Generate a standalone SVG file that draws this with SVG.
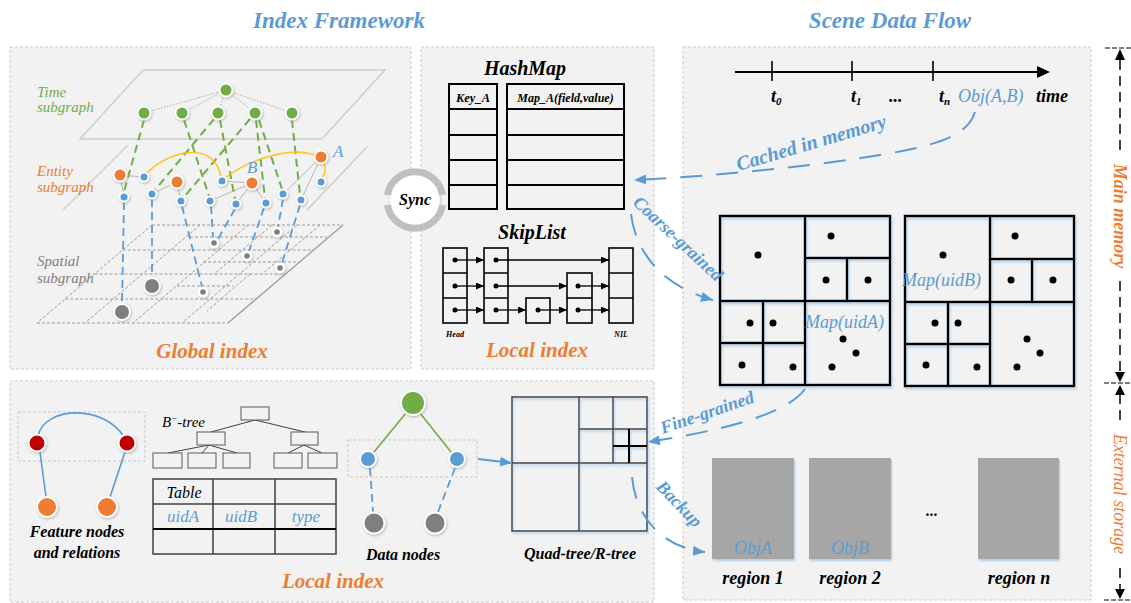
<svg xmlns="http://www.w3.org/2000/svg" width="1131" height="603" viewBox="0 0 1131 603" font-family="'Liberation Serif', 'DejaVu Serif', 'Times New Roman', serif">
<defs>
<style>
.panel{fill:#f2f2f2;stroke:#cccccc;stroke-width:1;stroke-dasharray:3 2}
.t{font-family:'Liberation Serif','DejaVu Serif','Times New Roman',serif;font-style:italic}
.b{font-weight:bold}
.h1{font-size:23px;font-weight:bold;fill:#5b9bd5}
.h2{font-size:21px;font-weight:bold;fill:#ed7d31}
.lbl{font-size:16px;font-weight:bold;fill:#000}
.plane{stroke:#cdcdcd;stroke-width:1.5;fill:none}
.grid{stroke:#9a9a9a;stroke-width:1;stroke-dasharray:3 2;fill:none}
.gdash{stroke:#70ad47;stroke-width:2;stroke-dasharray:8 5;fill:none}
.bdash{stroke:#5b9bd5;stroke-width:1.8;stroke-dasharray:8 5;fill:none}
.thin{stroke:#a6a6a6;stroke-width:0.8;fill:none}
.dotl{stroke:#9a9a9a;stroke-width:0.8;stroke-dasharray:1.5 1.5;fill:none}
.yl{stroke:#ffc000;stroke-width:1.6;fill:none;opacity:0.85}
.nd{stroke:#fff;stroke-width:2;filter:url(#nsh)}
.g{fill:#70ad47}.o{fill:#ed7d31}.bl{fill:#5b9bd5}.gr{fill:#7f7f7f}.r{fill:#c00000}
.box{fill:none;stroke:#000;stroke-width:2.5}
.dt{fill:#000}
.flow{stroke:#5b9bd5;stroke-width:2;stroke-dasharray:22 14;fill:none;marker-end:url(#ab)}
.sk{stroke:#000;stroke-width:1.6;fill:none}
.ska{stroke:#000;stroke-width:1.3;fill:none;marker-end:url(#ak)}
.bt{fill:#f2f2f2;stroke:#595959;stroke-width:1}
.btl{stroke:#404040;stroke-width:1;fill:none}
.qt{stroke:#404040;stroke-width:1.5;fill:none}
.vd{stroke:#000;stroke-width:1.5;stroke-dasharray:10 6;fill:none}
.hb{fill:none;stroke:#000;stroke-width:2}
</style>
<filter id="nsh" x="-50%" y="-50%" width="200%" height="200%">
<feDropShadow dx="0.8" dy="1.2" stdDeviation="1" flood-color="#808080" flood-opacity="0.5"/>
</filter>
<filter id="glow" x="-10%" y="-10%" width="120%" height="120%">
<feDropShadow dx="1" dy="2" stdDeviation="1.3" flood-color="#9dc3e6" flood-opacity="0.8"/>
</filter>
<marker id="ab" viewBox="0 0 12 10" refX="12" refY="5" markerWidth="12" markerHeight="10" markerUnits="userSpaceOnUse" orient="auto">
<path d="M0,0 L12,5 L0,10 Z" fill="#5b9bd5"/>
</marker>
<marker id="ak" viewBox="0 0 8 7" refX="8" refY="3.5" markerWidth="8" markerHeight="7" markerUnits="userSpaceOnUse" orient="auto">
<path d="M0,0 L8,3.5 L0,7 Z" fill="#000"/>
</marker>
</defs>

<rect width="1131" height="603" fill="#fff"/>

<!-- section titles -->
<text class="t h1" x="339" y="28" text-anchor="middle">Index Framework</text>
<text class="t h1" x="890" y="28" text-anchor="middle">Scene Data Flow</text>

<!-- panels -->
<rect class="panel" x="10" y="47" width="401" height="322"/>
<rect class="panel" x="421" y="47" width="233" height="322"/>
<rect class="panel" x="10" y="381" width="644" height="221"/>
<rect class="panel" x="683" y="47" width="408" height="553"/>

<!-- ===== Global index ===== -->
<g id="global-index">
  <!-- layer planes -->
  <polygon class="plane" points="143,70 385,70 322,139 80,139"/>
  <line class="plane" x1="128" y1="145" x2="63" y2="210"/>
  <line class="plane" x1="367" y1="147" x2="307" y2="210"/>
  <!-- spatial grid -->
  <g id="spatial-grid">
    <line class="grid" x1="152" y1="225" x2="343" y2="225"/>
    <line class="grid" x1="122.7" y1="250" x2="313.7" y2="250"/>
    <line class="grid" x1="94.5" y1="274" x2="285.5" y2="274"/>
    <line class="grid" x1="65.2" y1="299" x2="256.2" y2="299"/>
    <line class="grid" x1="37" y1="323" x2="228" y2="323"/>
    <line class="grid" x1="190" y1="237" x2="327" y2="237"/>
    <line class="grid" x1="203" y1="262" x2="300" y2="262"/>
    <line class="grid" x1="177" y1="286" x2="233" y2="286"/>
    <line class="grid" x1="152" y1="225" x2="37" y2="323"/>
    <line class="grid" x1="200" y1="225" x2="85" y2="323"/>
    <line class="grid" x1="248" y1="225" x2="133" y2="323"/>
    <line class="grid" x1="297" y1="225" x2="182" y2="323"/>
    <line class="grid" x1="272" y1="225" x2="214" y2="274"/>
    <line class="grid" x1="320" y1="225" x2="262" y2="274"/>
    <line class="grid" x1="250" y1="274" x2="207" y2="311"/>
    <line x1="343" y1="225" x2="228" y2="323" stroke="#9a9a9a" stroke-width="1.2"/>
  </g>
  <!-- layer labels -->
  <text class="t" x="37" y="97" font-size="15" fill="#70ad47">Time</text>
  <text class="t" x="37" y="112" font-size="15" fill="#70ad47">subgraph</text>
  <text class="t" x="37" y="176" font-size="15" fill="#ed7d31">Entity</text>
  <text class="t" x="37" y="192" font-size="15" fill="#ed7d31">subgraph</text>
  <text class="t" x="37" y="266" font-size="15" fill="#7f7f7f">Spatial</text>
  <text class="t" x="37" y="283" font-size="15" fill="#7f7f7f">subgraph</text>

  <!-- time to entity links -->
  <g id="time-entity-links">
    <line class="gdash" x1="144" y1="120" x2="124" y2="192"/>
    <line class="gdash" x1="184" y1="120" x2="209" y2="196"/>
    <line class="gdash" x1="214" y1="119" x2="155" y2="190"/>
    <line class="gdash" x1="220" y1="120" x2="235" y2="199"/>
    <line class="gdash" x1="250" y1="119" x2="184" y2="197"/>
    <line class="gdash" x1="256" y1="120" x2="265" y2="198"/>
    <line class="gdash" x1="259" y1="120" x2="282" y2="189"/>
    <line class="gdash" x1="292" y1="120" x2="300" y2="195"/>
  </g>
  <!-- entity to spatial links -->
  <g id="entity-spatial-links">
    <line class="bdash" x1="124" y1="202" x2="122" y2="304"/>
    <line class="bdash" x1="152" y1="199" x2="152" y2="278"/>
    <line class="bdash" x1="182" y1="206" x2="202" y2="287"/>
    <line class="bdash" x1="211" y1="206" x2="213" y2="238"/>
    <line class="bdash" x1="235" y1="209" x2="218" y2="239"/>
    <line class="bdash" x1="264" y1="208" x2="249" y2="251"/>
    <line class="bdash" x1="283" y1="199" x2="278" y2="227"/>
    <line class="bdash" x1="300" y1="205" x2="282" y2="263"/>
  </g>
  <!-- time subgraph edges -->
  <g id="time-edges">
    <line class="dotl" x1="226" y1="90" x2="144" y2="113"/>
    <line class="dotl" x1="226" y1="90" x2="182" y2="113"/>
    <line class="dotl" x1="226" y1="90" x2="218" y2="113"/>
    <line class="dotl" x1="226" y1="90" x2="255" y2="113"/>
    <line class="dotl" x1="226" y1="90" x2="292" y2="113"/>
  </g>
  <!-- entity subgraph edges -->
  <g id="entity-edges">
    <line class="thin" x1="120" y1="175" x2="144" y2="177"/>
    <line class="thin" x1="120" y1="175" x2="124" y2="197"/>
    <line class="thin" x1="152" y1="194" x2="177" y2="182"/>
    <line class="thin" x1="177" y1="182" x2="181" y2="201"/>
    <line class="thin" x1="222" y1="181" x2="252" y2="183"/>
    <line class="thin" x1="210" y1="201" x2="252" y2="183"/>
    <line class="thin" x1="252" y1="183" x2="236" y2="204"/>
    <line class="thin" x1="252" y1="183" x2="266" y2="203"/>
    <line class="thin" x1="321" y1="157" x2="283" y2="194"/>
    <line class="thin" x1="321" y1="157" x2="301" y2="200"/>
    <path class="yl" d="M146,174 C166,152 214,138 221,177"/>
    <path class="yl" d="M225,178 C248,160 290,146 315,155"/>
    <path class="yl" d="M324,163 Q327,172 322,178"/>
  </g>
  <!-- time nodes -->
  <g id="time-nodes">
    <circle class="nd g" cx="226" cy="90" r="6.5"/>
    <circle class="nd g" cx="144" cy="113" r="6.5"/>
    <circle class="nd g" cx="182" cy="113" r="6.5"/>
    <circle class="nd g" cx="218" cy="113" r="6.5"/>
    <circle class="nd g" cx="255" cy="113" r="6.5"/>
    <circle class="nd g" cx="292" cy="113" r="6.5"/>
  </g>
  <!-- entity nodes -->
  <g id="entity-nodes">
    <circle class="nd o" cx="120" cy="175" r="6.5"/>
    <circle class="nd o" cx="177" cy="182" r="6.5"/>
    <circle class="nd o" cx="252" cy="183" r="6.5"/>
    <circle class="nd o" cx="321" cy="157" r="6.5"/>
    <circle class="nd bl" cx="144" cy="177" r="4.5" stroke-width="1.5"/>
    <circle class="nd bl" cx="124" cy="197" r="4.5" stroke-width="1.5"/>
    <circle class="nd bl" cx="152" cy="194" r="4.5" stroke-width="1.5"/>
    <circle class="nd bl" cx="181" cy="201" r="4.5" stroke-width="1.5"/>
    <circle class="nd bl" cx="222" cy="181" r="4.5" stroke-width="1.5"/>
    <circle class="nd bl" cx="210" cy="201" r="4.5" stroke-width="1.5"/>
    <circle class="nd bl" cx="236" cy="204" r="4.5" stroke-width="1.5"/>
    <circle class="nd bl" cx="266" cy="203" r="4.5" stroke-width="1.5"/>
    <circle class="nd bl" cx="283" cy="194" r="4.5" stroke-width="1.5"/>
    <circle class="nd bl" cx="301" cy="200" r="4.5" stroke-width="1.5"/>
    <circle class="nd bl" cx="321" cy="182" r="4.5" stroke-width="1.5"/>
    <text class="t" x="333" y="157" font-size="17" fill="#5b9bd5">A</text>
    <text class="t" x="247" y="173" font-size="17" fill="#5b9bd5">B</text>
  </g>
  <!-- spatial nodes -->
  <g id="spatial-nodes">
    <circle class="nd gr" cx="122" cy="312" r="8"/>
    <circle class="nd gr" cx="152" cy="286" r="8"/>
    <circle cx="203" cy="292" r="5.5" fill="#fff" filter="url(#nsh)"/><circle cx="203" cy="292" r="2.8" class="gr"/>
    <circle cx="214" cy="243" r="5.5" fill="#fff" filter="url(#nsh)"/><circle cx="214" cy="243" r="2.8" class="gr"/>
    <circle cx="247" cy="256" r="5.5" fill="#fff" filter="url(#nsh)"/><circle cx="247" cy="256" r="2.8" class="gr"/>
    <circle cx="277" cy="232" r="5.5" fill="#fff" filter="url(#nsh)"/><circle cx="277" cy="232" r="2.8" class="gr"/>
    <circle cx="280" cy="268" r="5.5" fill="#fff" filter="url(#nsh)"/><circle cx="280" cy="268" r="2.8" class="gr"/>
  </g>
  <text class="t h2" x="212" y="358" text-anchor="middle">Global index</text>
</g>

<!-- ===== Sync ring ===== -->
<g id="sync">
  <circle cx="415" cy="200" r="25" fill="#fff" filter="url(#nsh)"/>
  <path d="M387.4,195 A28,28 0 0 1 442.6,195" fill="none" stroke="#bfbfbf" stroke-width="7"/>
  <path d="M442.6,205 A28,28 0 0 1 387.4,205" fill="none" stroke="#bfbfbf" stroke-width="7"/>
  <text class="t b" x="415" y="205" font-size="16" text-anchor="middle">Sync</text>
</g>

<!-- ===== HashMap / SkipList local index ===== -->
<g id="hashmap">
  <text class="t b" x="525" y="75" font-size="20" text-anchor="middle">HashMap</text>
  <rect class="hb" x="449" y="84" width="48" height="125"/>
  <rect class="hb" x="507" y="84" width="117" height="125"/>
  <path class="hb" d="M449,109 H497 M449,135 H497 M449,160 H497 M449,185 H497 M507,109 H624 M507,135 H624 M507,160 H624 M507,185 H624"/>
  <text class="t b" x="473" y="102" font-size="12.5" text-anchor="middle">Key_A</text>
  <text class="t b" x="565.5" y="102" font-size="12" text-anchor="middle">Map_A(field,value)</text>
</g>
<g id="skiplist">
  <text class="t b" x="532" y="239" font-size="20" text-anchor="middle">SkipList</text>
  <rect class="sk" x="443" y="248" width="24" height="75"/>
  <path class="sk" d="M443,273 H467 M443,298 H467"/>
  <rect class="sk" x="484" y="248" width="24" height="75"/>
  <path class="sk" d="M484,273 H508 M484,298 H508"/>
  <rect class="sk" x="526" y="298" width="24" height="25"/>
  <rect class="sk" x="567" y="273" width="25" height="50"/>
  <path class="sk" d="M567,298 H592"/>
  <rect class="sk" x="609" y="248" width="24" height="75"/>
  <path class="sk" d="M609,273 H633 M609,298 H633"/>
  <g class="dt">
    <circle cx="455" cy="260" r="2.5"/><circle cx="455" cy="286" r="2.5"/><circle cx="455" cy="310" r="2.5"/>
    <circle cx="496" cy="260" r="2.5"/><circle cx="496" cy="286" r="2.5"/><circle cx="496" cy="310" r="2.5"/>
    <circle cx="538" cy="310" r="2.5"/>
    <circle cx="578" cy="286" r="2.5"/><circle cx="578" cy="310" r="2.5"/>
  </g>
  <line class="ska" x1="455" y1="260" x2="484" y2="260"/>
  <line class="ska" x1="496" y1="260" x2="609" y2="260"/>
  <line class="ska" x1="455" y1="286" x2="484" y2="286"/>
  <line class="ska" x1="496" y1="286" x2="567" y2="286"/>
  <line class="ska" x1="578" y1="286" x2="609" y2="286"/>
  <line class="ska" x1="455" y1="310" x2="484" y2="310"/>
  <line class="ska" x1="496" y1="310" x2="526" y2="310"/>
  <line class="ska" x1="538" y1="310" x2="567" y2="310"/>
  <line class="ska" x1="578" y1="310" x2="609" y2="310"/>
  <text class="t b" x="455" y="337" font-size="8" text-anchor="middle">Head</text>
  <text class="t b" x="621" y="337" font-size="8" text-anchor="middle">NIL</text>
  <text class="t h2" x="537" y="357" text-anchor="middle">Local index</text>
</g>

<!-- ===== Bottom local index ===== -->
<g id="feature-nodes">
  <rect x="18" y="412" width="127" height="49" fill="none" stroke="#c8c8c8" stroke-width="1" stroke-dasharray="3 2"/>
  <path d="M38,436 C45,405 105,405 124,437" fill="none" stroke="#5b9bd5" stroke-width="1.6"/>
  <line x1="40" y1="452" x2="46" y2="497" stroke="#5b9bd5" stroke-width="1.6"/>
  <line x1="125" y1="452" x2="110" y2="497" stroke="#5b9bd5" stroke-width="1.6"/>
  <circle class="nd r" cx="37" cy="443" r="8.5"/>
  <circle class="nd r" cx="127" cy="443" r="8.5"/>
  <circle class="nd o" cx="47" cy="507" r="10"/>
  <circle class="nd o" cx="107" cy="507" r="10"/>
  <text class="t lbl" x="77" y="537" text-anchor="middle">Feature nodes</text>
  <text class="t lbl" x="77" y="558" text-anchor="middle">and relations</text>
</g>
<g id="bplus-tree">
  <text class="t" x="162" y="427" font-size="15">B<tspan font-size="9" dy="-6">−</tspan><tspan dy="6">-tree</tspan></text>
  <path class="btl" d="M255,420 L211,432 M255,420 L305,432 M209,445 L168,453 M209,445 L202,453 M209,445 L237,453 M304,445 L288,453 M304,445 L322,453"/>
  <rect class="bt" x="241" y="407" width="28" height="13"/>
  <rect class="bt" x="197" y="432" width="28" height="13"/>
  <rect class="bt" x="291" y="432" width="27" height="13"/>
  <rect class="bt" x="153" y="453" width="29" height="15"/>
  <rect class="bt" x="188" y="453" width="28" height="15"/>
  <rect class="bt" x="223" y="453" width="27" height="15"/>
  <rect class="bt" x="274" y="453" width="28" height="15"/>
  <rect class="bt" x="308" y="453" width="29" height="15"/>
</g>
<g id="table">
  <rect x="153" y="479" width="183" height="75" fill="none" stroke="#404040" stroke-width="1.5"/>
  <path d="M213,479 V554 M275,479 V554 M153,504 H336" stroke="#404040" stroke-width="1.5" fill="none"/>
  <path d="M153,529 H336" stroke="#000" stroke-width="2.2"/>
  <text class="t" x="184" y="498" font-size="16" text-anchor="middle">Table</text>
  <text class="t" x="183" y="522" font-size="17" fill="#5b9bd5" text-anchor="middle">uidA</text>
  <text class="t" x="241" y="522" font-size="17" fill="#5b9bd5" text-anchor="middle">uidB</text>
  <text class="t" x="306" y="522" font-size="17" fill="#5b9bd5" text-anchor="middle">type</text>
</g>
<g id="data-nodes">
  <rect x="348" y="440" width="129" height="37" fill="none" stroke="#c8c8c8" stroke-width="1" stroke-dasharray="3 2"/>
  <line x1="406" y1="413" x2="374" y2="452" stroke="#70ad47" stroke-width="1.6"/>
  <line x1="420" y1="413" x2="451" y2="452" stroke="#70ad47" stroke-width="1.6"/>
  <line class="bdash" x1="370" y1="468" x2="373" y2="512"/>
  <line class="bdash" x1="455" y1="468" x2="438" y2="512"/>
  <circle class="nd g" cx="413" cy="403" r="12"/>
  <circle class="nd bl" cx="368" cy="459" r="8"/>
  <circle class="nd bl" cx="457" cy="459" r="8"/>
  <circle class="nd gr" cx="374" cy="523" r="10.5"/>
  <circle class="nd gr" cx="435" cy="523" r="10.5"/>
  <text class="t lbl" x="403" y="560" text-anchor="middle">Data nodes</text>
</g>
<g id="quad-tree">
  <g filter="url(#glow)">
    <rect class="qt" x="512" y="397" width="135" height="134"/>
    <path class="qt" d="M579,397 V531 M512,463 H647 M613,397 V463 M579,429 H647"/>
    <path d="M629,429 V463 M613,446 H647" stroke="#000" stroke-width="2" fill="none"/>
  </g>
  <text class="t lbl" x="580" y="559" text-anchor="middle">Quad-tree/R-tree</text>
</g>
<text class="t h2" x="333" y="588" text-anchor="middle">Local index</text>

<!-- ===== Scene data flow ===== -->
<g id="timeline">
  <line x1="735" y1="72" x2="1040" y2="72" stroke="#000" stroke-width="2"/>
  <polygon points="1037,66 1050,72 1037,78" fill="#000"/>
  <path d="M772,61 V81 M852,61 V81 M933,61 V81" stroke="#000" stroke-width="1.6"/>
  <text class="t b" x="771" y="102" font-size="18">t<tspan font-size="11" dy="3">0</tspan></text>
  <text class="t b" x="851" y="102" font-size="18">t<tspan font-size="11" dy="3">1</tspan></text>
  <text class="t b" x="889" y="102" font-size="18">...</text>
  <text class="t b" x="939" y="102" font-size="18">t<tspan font-size="11" dy="3">n</tspan></text>
  <text class="t" x="958" y="102" font-size="18" fill="#5b9bd5">Obj(A,B)</text>
  <text class="t b" x="1036" y="102" font-size="18">time</text>
</g>

<g id="map-uidA" filter="url(#glow)">
  <rect class="box" x="720" y="216" width="170" height="169"/>
  <path class="box" d="M805,216 V385 M720,301 H890 M805,258 H890 M847,258 V301 M763,301 V385 M720,343 H805"/>
</g>
<g id="map-uidA-points" class="dt">
  <circle cx="758" cy="255" r="3.5"/><circle cx="831" cy="236" r="3.5"/>
  <circle cx="826" cy="280" r="3.5"/><circle cx="868" cy="280" r="3.5"/>
  <circle cx="750" cy="323" r="3.5"/><circle cx="773" cy="323" r="3.5"/>
  <circle cx="742" cy="365" r="3.5"/><circle cx="793" cy="367" r="3.5"/>
  <circle cx="843" cy="339" r="3.5"/><circle cx="856" cy="353" r="3.5"/><circle cx="832" cy="367" r="3.5"/>
</g>
<g id="map-uidB" filter="url(#glow)">
  <rect class="box" x="905" y="216" width="169" height="170"/>
  <path class="box" d="M990,216 V386 M905,302 H1074 M990,259 H1074 M1032,259 V302 M948,302 V386 M905,344 H990"/>
</g>
<g id="map-uidB-points" class="dt">
  <circle cx="943" cy="255" r="3.5"/><circle cx="1015" cy="236" r="3.5"/>
  <circle cx="1011" cy="280" r="3.5"/><circle cx="1053" cy="280" r="3.5"/>
  <circle cx="935" cy="323" r="3.5"/><circle cx="958" cy="323" r="3.5"/>
  <circle cx="926" cy="365" r="3.5"/><circle cx="977" cy="367" r="3.5"/>
  <circle cx="1027" cy="339" r="3.5"/><circle cx="1040" cy="353" r="3.5"/><circle cx="1017" cy="367" r="3.5"/>
</g>
<text class="t" x="805" y="328" font-size="18" fill="#5b9bd5">Map(uidA)</text>
<text class="t" x="902" y="286" font-size="18" fill="#5b9bd5">Map(uidB)</text>

<g id="regions">
  <g filter="url(#glow)">
    <rect x="712" y="458" width="82" height="101" fill="#a6a6a6"/>
    <rect x="809" y="458" width="82" height="101" fill="#a6a6a6"/>
    <rect x="978" y="458" width="81" height="101" fill="#a6a6a6"/>
  </g>
  <text class="t" x="753" y="554" font-size="18" fill="#5b9bd5" text-anchor="middle">ObjA</text>
  <text class="t" x="850" y="554" font-size="18" fill="#5b9bd5" text-anchor="middle">ObjB</text>
  <text class="t b" x="932" y="516" font-size="16" text-anchor="middle">...</text>
  <text class="t b" x="753" y="584" font-size="18" text-anchor="middle">region 1</text>
  <text class="t b" x="850" y="584" font-size="18" text-anchor="middle">region 2</text>
  <text class="t b" x="1019" y="584" font-size="18" text-anchor="middle">region n</text>
</g>

<!-- storage levels -->
<g id="storage-scale">
  <path d="M1105,48 H1131 M1104,383 H1131 M1104,600 H1131" stroke="#000" stroke-width="1.2" stroke-dasharray="5 2"/>
  <line class="vd" x1="1120" y1="60" x2="1120" y2="153"/>
  <line class="vd" x1="1120" y1="281" x2="1120" y2="373"/>
  <line class="vd" x1="1120" y1="394" x2="1120" y2="420"/>
  <line class="vd" x1="1120" y1="568" x2="1120" y2="590"/>
  <polygon points="1115,60 1120,49 1125,60" fill="#000"/>
  <polygon points="1115,372 1120,382 1125,372" fill="#000"/>
  <polygon points="1115,395 1120,385 1125,395" fill="#000"/>
  <polygon points="1115,589 1120,599 1125,589" fill="#000"/>
  <text class="t b" transform="translate(1114,216) rotate(90)" font-size="18" fill="#ed7d31" text-anchor="middle">Main memory</text>
  <text class="t" transform="translate(1114,494) rotate(90)" font-size="18" fill="#ed7d31" text-anchor="middle">External storage</text>
</g>

<!-- ===== Data flow connectors ===== -->
<g id="connectors">
  <path class="flow" d="M975,112 C968,135 940,145 880,155 S720,176 634,180"/>
  <path class="flow" d="M631,214 C636,255 665,287 713,300"/>
  <path class="flow" d="M805,389 C790,410 740,428 648,442"/>
  <path class="flow" d="M632,477 C636,520 665,548 705,552"/>
  <line x1="478" y1="459" x2="512" y2="463" stroke="#5b9bd5" stroke-width="1.8" marker-end="url(#ab)"/>
  <text class="t b" transform="translate(813,149) rotate(-16.5)" font-size="20" fill="#5b9bd5" text-anchor="middle">Cached in memory</text>
  <text class="t b" transform="translate(674,243) rotate(43)" font-size="18" fill="#5b9bd5" text-anchor="middle">Coarse-grained</text>
  <text class="t b" transform="translate(709,418) rotate(-19)" font-size="18" fill="#5b9bd5" text-anchor="middle">Fine-grained</text>
  <text class="t b" transform="translate(675,508) rotate(46)" font-size="18" fill="#5b9bd5" text-anchor="middle">Backup</text>
</g>
</svg>
